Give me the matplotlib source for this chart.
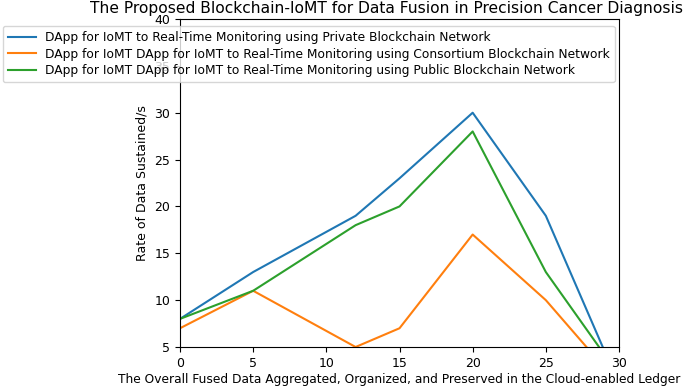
import matplotlib
matplotlib.use("Agg")
import matplotlib.pyplot as plt

# data
x = [0, 5, 12, 15, 20, 25, 30]
private = [8, 13, 19, 23, 30, 19, 1]
consortium = [7, 11, 5, 7, 17, 10, 1]
public = [8, 11, 18, 20, 28, 13, 2]

labels = [
    "DApp for IoMT to Real-Time Monitoring using Private Blockchain Network",
    "DApp for IoMT DApp for IoMT to Real-Time Monitoring using Consortium Blockchain Network",
    "DApp for IoMT DApp for IoMT to Real-Time Monitoring using Public Blockchain Network",
]

fig = plt.figure(figsize=(6.85, 3.87), dpi=100)
ax = fig.add_axes([180 / 685, 40 / 387, 439 / 685, 328 / 387])

ax.plot(x, private, color="#1f77b4", lw=1.5, label=labels[0])
ax.plot(x, consortium, color="#ff7f0e", lw=1.5, label=labels[1])
ax.plot(x, public, color="#2ca02c", lw=1.5, label=labels[2])

ax.set_xlim(0, 30)
ax.set_ylim(5, 40)
ax.tick_params(labelsize=9)
ax.set_xlabel("The Overall Fused Data Aggregated, Organized, and Preserved in the Cloud-enabled Ledger",
              fontsize=8.85, labelpad=2)
ax.set_ylabel("Rate of Data Sustained/s", fontsize=9)

# title sits a little left of the axes centre in the reference
fig.text(387 / 685, 1 - 1 / 387,
         "The Proposed Blockchain-IoMT for Data Fusion in Precision Cancer Diagnosis",
         ha="center", va="top", fontsize=11.2)

ax.legend(loc="upper left", bbox_to_anchor=(3 / 685, 1 - 26 / 387),
          bbox_transform=fig.transFigure, fontsize=8.86, borderaxespad=0,
          labelspacing=0.3, handlelength=2.27, handletextpad=0.73)

fig.savefig("out.png", dpi=100)
